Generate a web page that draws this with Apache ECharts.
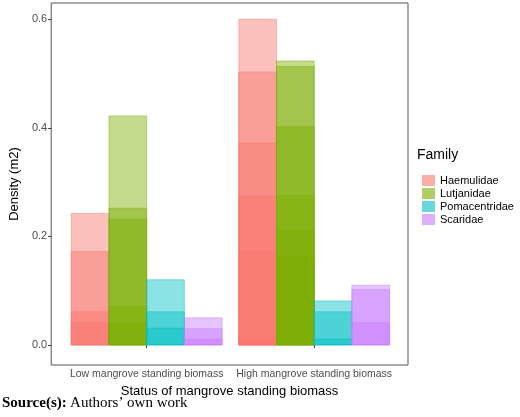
<!DOCTYPE html>
<html><head><meta charset="utf-8">
<script src="https://cdn.jsdelivr.net/npm/echarts@6/dist/echarts.min.js"></script>
<style>html,body{margin:0;padding:0;background:#fff}#c{width:520px;height:417px}</style>
</head><body><div id="c"></div>
<script>
const categories = ['Low mangrove standing biomass', 'High mangrove standing biomass'];
const families = ['Haemulidae', 'Lutjanidae', 'Pomacentridae', 'Scaridae'];
const colors = ['#F8766D', '#7CAE00', '#00BFC4', '#C77CFF'];
// overlapping layer heights per family: [low layers], [high layers]
const haemulidae = [[0.242, 0.172, 0.061, 0.041], [0.60, 0.503, 0.372, 0.274, 0.172, 0.011]];
const lutjanidae = [[0.422, 0.252, 0.231, 0.071, 0.041], [0.523, 0.513, 0.402, 0.275, 0.211, 0.161]];
const pomacentridae = [[0.12, 0.061, 0.031], [0.081, 0.061, 0.011]];
const scaridae = [[0.05, 0.03, 0.011], [0.11, 0.102, 0.041]];
const yTicks = [0, 0.2, 0.4, 0.6];

const famData = [haemulidae, lutjanidae, pomacentridae, scaridae];
const dodge = 0.9, barW = dodge / 4;
const series = families.map((f, fi) => {
  const data = [];
  famData[fi].forEach((layers, ci) => layers.forEach(v => data.push([ci + 1, v])));
  return {
    type: 'custom', name: f, itemStyle: {color: colors[fi]},
    data,
    renderItem(params, api) {
      const cx = api.value(0) - dodge / 2 + barW * fi;
      const p0 = api.coord([cx, 0]);
      const p1 = api.coord([cx + barW, api.value(1)]);
      return {type: 'rect', shape: {x: p0[0], y: p1[1], width: p1[0] - p0[0], height: p0[1] - p1[1]},
        style: {fill: colors[fi], opacity: 0.45, stroke: colors[fi], lineWidth: 1}};
    }
  };
});
const chart = echarts.init(document.getElementById('c'), null, {renderer: 'canvas'});
chart.setOption({
  animation: false,
  grid: {left: 40, right: 112, top: 3, bottom: 52, show: true, borderColor: '#555', borderWidth: 1},
  xAxis: {type: 'value', min: 0.43, max: 2.56,
    axisLine: {show: false}, splitLine: {show: false},
    axisTick: {customValues: [1, 2], length: 3, lineStyle: {color: '#333'}},
    axisLabel: {customValues: [1, 2], formatter: v => categories[Math.round(v) - 1], color: '#4d4d4d', fontSize: 10.5, fontFamily: 'Liberation Sans', margin: 4},
    name: 'Status of mangrove standing biomass', nameLocation: 'middle', nameGap: 17,
    nameTextStyle: {color: '#000', fontSize: 13, fontFamily: 'Liberation Sans'}},
  yAxis: {type: 'value', min: -0.037, max: 0.63,
    axisLine: {show: false}, splitLine: {show: false},
    axisTick: {customValues: yTicks, length: 3, lineStyle: {color: '#333'}},
    axisLabel: {customValues: yTicks, formatter: v => v.toFixed(1), color: '#4d4d4d', fontSize: 11, fontFamily: 'Liberation Sans', margin: 4},
    name: 'Density (m2)', nameLocation: 'middle', nameGap: 26, nameRotate: 90,
    nameTextStyle: {color: '#000', fontSize: 13, fontFamily: 'Liberation Sans'}},
  legend: {orient: 'vertical', left: 417, top: 170, itemWidth: 13, itemHeight: 11, itemGap: 2,
    icon: 'rect', textStyle: {fontSize: 11, fontFamily: 'Liberation Sans', color: '#000'},
    itemStyle: {opacity: 0.6}},
  graphic: [
    {type: 'text', left: 417, top: 148, style: {text: 'Family', fontSize: 14, fontFamily: 'Liberation Sans', fill: '#000'}},
    {type: 'text', left: 2, top: 396, style: {rich: {b: {fontWeight: 'bold', fontSize: 15, fontFamily: 'Liberation Serif'}, n: {fontSize: 15, fontFamily: 'Liberation Serif'}}, text: '{b|Source(s):} {n|Authors’ own work}'}}
  ],
  series
});
</script></body></html>
